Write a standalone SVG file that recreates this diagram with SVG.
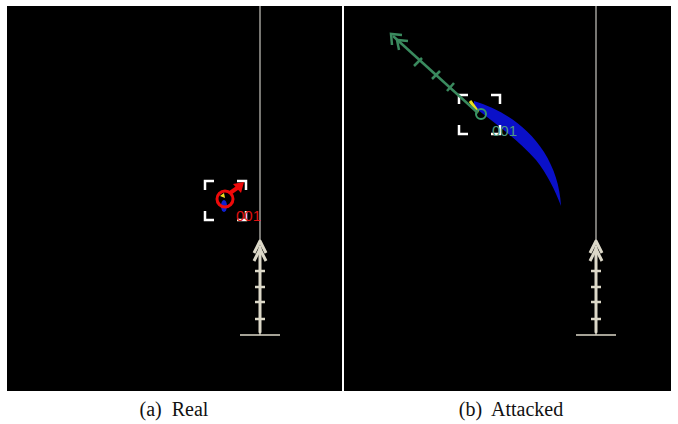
<svg xmlns="http://www.w3.org/2000/svg" width="678" height="424" viewBox="0 0 678 424">
  <defs>
    <style>
      .panel { fill: #000; }
      .lane { stroke: #c8c6c0; stroke-width: 1.2; fill: none; }
      .route { stroke: #dcd8c8; stroke-width: 3; fill: none; stroke-linecap: round; }
      .cross { stroke: #dcd8c8; stroke-width: 2.5; fill: none; }
      .bracket { stroke: #fff; stroke-width: 2.5; fill: none; }
      .caption { font-family: "Liberation Serif", "Times New Roman", serif; font-size: 20px; word-spacing: 5px; fill: #111; }
      .tag { font-family: "Liberation Sans", Arial, sans-serif; font-size: 15px; }
      .chev { stroke: #dcd8c8; stroke-width: 3; fill: none; stroke-linejoin: round; }
    </style>
    <!-- Lane with the ego route drawn on top -->
    <g id="route-glyph">
      <line class="route" x1="0" y1="-88" x2="0" y2="-3"/>
      <polyline class="chev" points="-6,-82 0,-94 6,-82"/>
      <polyline class="chev" points="-6,-74 0,-86 6,-74"/>
      <line class="cross" x1="-5" y1="-64" x2="5" y2="-64"/>
      <line class="cross" x1="-5" y1="-48" x2="5" y2="-48"/>
      <line class="cross" x1="-5" y1="-33" x2="5" y2="-33"/>
      <line class="cross" x1="-5" y1="-16" x2="5" y2="-16"/>
      <line x1="-20" y1="0" x2="20" y2="0" stroke="#dcd8c8" stroke-width="1.5"/>
    </g>
    <!-- Corner brackets around a tracked vehicle -->
    <g id="box">
      <path class="bracket" d="M0,9 V0 H9 M32,0 H41 V9 M41,30 V39 H32 M9,39 H0 V30"/>
    </g>
  </defs>

  <rect width="678" height="424" fill="#fff"/>

  <!-- (a) Real -->
  <g id="panel-real">
    <rect class="panel" x="7" y="6" width="335" height="385"/>
    <line class="lane" x1="260" y1="6" x2="260" y2="335"/>
    <use href="#route-glyph" x="260" y="335"/>
    <g id="vehicle-real">
      <use href="#box" x="205" y="181"/>
      <ellipse cx="224" cy="206" rx="3" ry="6" fill="#1020d0"/>
      <path d="M220,196 l4,-3 l1,5 z" fill="#f0e020"/>
      <circle cx="225" cy="199" r="8" fill="none" stroke="#ee0a0a" stroke-width="3"/>
      <line x1="230" y1="193" x2="240" y2="186" stroke="#ee0a0a" stroke-width="4"/>
      <polygon points="233,184 244,182 241,193" fill="#ee0a0a"/>
      <text class="tag" x="236" y="221" fill="#e01010">001</text>
    </g>
  </g>

  <!-- (b) Attacked -->
  <g id="panel-attacked">
    <rect class="panel" x="344" y="6" width="327" height="385"/>
    <line class="lane" x1="596" y1="6" x2="596" y2="335"/>
    <use href="#route-glyph" x="596" y="335"/>
    <g id="vehicle-attacked">
      <path d="M474,101 C498,108 526,124 544,152 C554,168 560,186 561,206 C555,190 547,174 536,160 C518,140 496,124 474,107 Z" fill="#0a10c8"/>
      <use href="#box" x="459" y="95"/>
      <line x1="470" y1="101" x2="478" y2="112" stroke="#e8e020" stroke-width="3"/>
      <circle cx="481" cy="114" r="5" fill="none" stroke="#3a9a68" stroke-width="2"/>
      <text class="tag" x="492" y="136" fill="#4f9a80">001</text>
    </g>
    <g id="predicted-path" stroke="#3a8a5e" stroke-width="2.5" fill="none">
      <line x1="478" y1="113" x2="393" y2="36"/>
      <polyline points="392,45 391,34 402,35"/>
      <polyline points="399,50 397,40 408,41"/>
      <line x1="414" y1="66" x2="422" y2="58"/>
      <line x1="432" y1="79" x2="440" y2="71"/>
      <line x1="447" y1="91" x2="454" y2="83"/>
    </g>
  </g>

  <text class="caption" x="174" y="416" text-anchor="middle">(a) Real</text>
  <text class="caption" x="511" y="416" text-anchor="middle">(b) Attacked</text>
</svg>
